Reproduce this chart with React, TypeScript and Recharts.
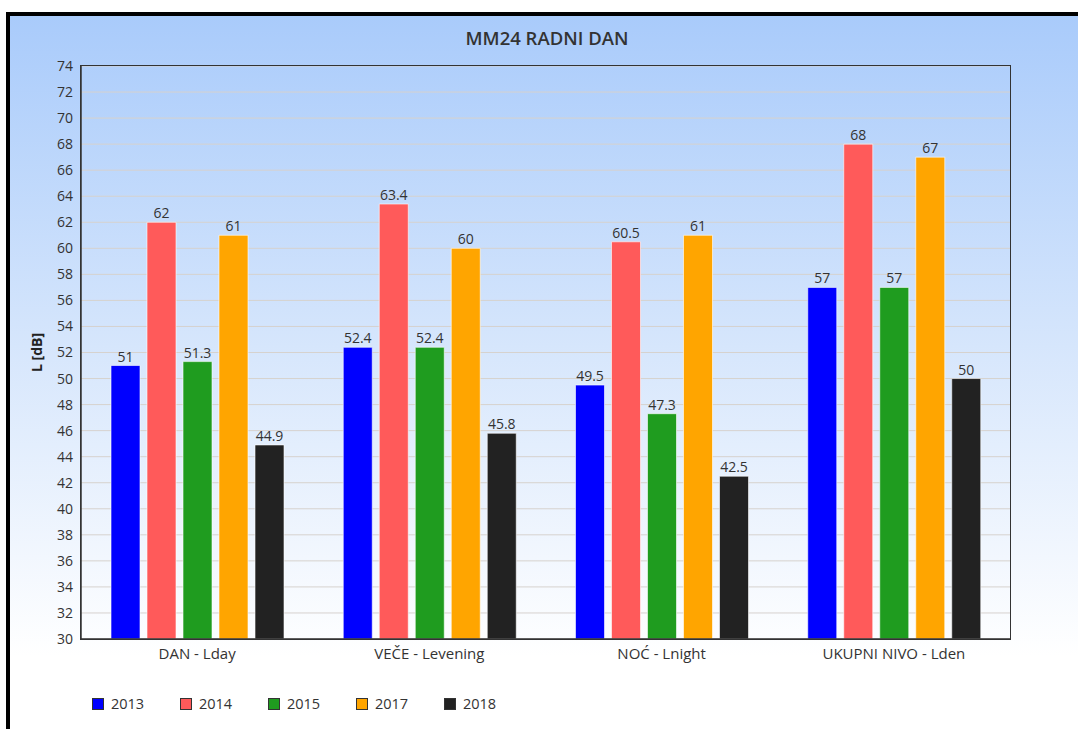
import { BarChart, Bar, XAxis, YAxis, CartesianGrid, LabelList } from "recharts"

const categories = ["DAN - Lday", "VEČE - Levening", "NOĆ - Lnight", "UKUPNI NIVO - Lden"]
const years = ["2013", "2014", "2015", "2017", "2018"]
const colors = ["#0000ff", "#ff5a5a", "#1f9c1f", "#ffa500", "#222222"]

const v2013 = [51, 52.4, 49.5, 57]
const v2014 = [62, 63.4, 60.5, 68]
const v2015 = [51.3, 52.4, 47.3, 57]
const v2017 = [61, 60, 61, 67]
const v2018 = [44.9, 45.8, 42.5, 50]

const yTicks = Array.from({ length: 23 }, (_, i) => 30 + i * 2)

const series = [v2013, v2014, v2015, v2017, v2018]
const data = categories.map((name, i) => {
  const row: Record<string, string | number> = { name }
  years.forEach((y, k) => (row[y] = series[k][i]))
  return row
})

const font = "'Open Sans', sans-serif"

export default function App() {
  return (
    <div style={{ position: "absolute", left: 0, top: 0, width: 1078, height: 729, overflow: "hidden", background: "#fff", fontFamily: font }}>
      <div
        style={{
          position: "absolute", left: 6, top: 12, width: 1100, height: 740,
          borderLeft: "4px solid #000", borderTop: "4px solid #000",
          background: "linear-gradient(to bottom, #a9cbfb 0px, #d6e6fc 330px, #ffffff 640px)",
        }}
      />
      <div style={{ position: "absolute", left: 0, width: 1094, top: 25, textAlign: "center", fontSize: 18.5, fontWeight: 600, color: "#333" }}>
        MM24 RADNI DAN
      </div>
      <div style={{ position: "absolute", left: 0, top: 0 }}>
        <BarChart width={1078} height={729} data={data} margin={{ top: 66, right: 68, bottom: 60, left: 36 }}
          barCategoryGap="12.7%" barGap={7}>
          <CartesianGrid vertical={false} stroke="#d6d2ce" />
          <XAxis dataKey="name" axisLine={{ stroke: "#333", strokeWidth: 1.5 }} tickLine={false} height={30}
            tick={{ fontSize: 15, fill: "#333", fontFamily: font }} tickMargin={3} />
          <YAxis domain={[30, 74]} ticks={yTicks} interval={0} width={45} axisLine={{ stroke: "#333", strokeWidth: 1.5 }}
            tickLine={false} tick={{ fontSize: 14, fill: "#333", fontFamily: font }}
            label={{ value: "L [dB]", angle: -90, position: "insideLeft", dx: -4, style: { fontSize: 14, fontWeight: 700, fill: "#222", textAnchor: "middle" } }} />
          {years.map((y, k) => (
            <Bar key={y} dataKey={y} fill={colors[k]} barSize={29} isAnimationActive={false}
              stroke="rgba(255,255,255,0.6)" strokeWidth={1}>
              <LabelList dataKey={y} position="top" offset={4} style={{ fontSize: 14, fill: "#333", fontFamily: font }} />
            </Bar>
          ))}
        </BarChart>
      </div>
      <div style={{ position: "absolute", left: 80, top: 65, width: 929, height: 573, border: "1.5px solid #333", pointerEvents: "none" }} />
      <div style={{ position: "absolute", left: 92, top: 694, display: "flex", fontSize: 14.5, color: "#333" }}>
        {years.map((y, k) => (
          <div key={y} style={{ width: 88, display: "flex", alignItems: "center" }}>
            <span style={{ width: 10, height: 10, background: colors[k], border: "1px solid #333", marginRight: 7 }} />
            {y}
          </div>
        ))}
      </div>
    </div>
  )
}
